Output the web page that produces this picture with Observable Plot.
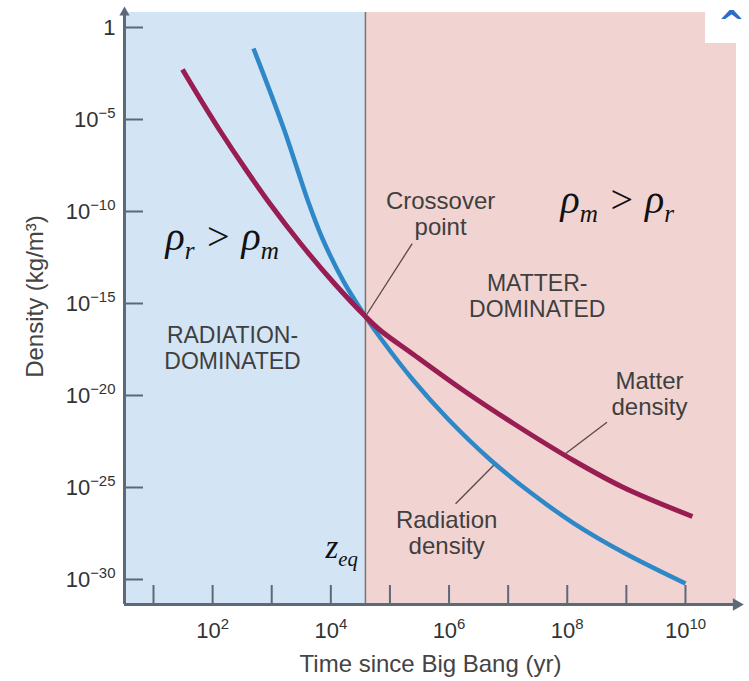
<!DOCTYPE html>
<html><head><meta charset="utf-8">
<script src="https://cdn.jsdelivr.net/npm/d3@7"></script>
<script src="https://cdn.jsdelivr.net/npm/@observablehq/plot@0.6"></script>
<style>
html,body{margin:0;padding:0;background:#fff;}
#chart{width:749px;height:681px;}
</style></head><body><div id="chart"></div>
<script>
// ---------- data ----------
const matterTime    = [30.9, 62.4, 136, 360, 954, 3.07e3, 1.11e4, 3.85e4, 6.92e4, 2.5e5, 1.76e6, 1.23e7, 1.28e8, 8.94e8, 1.31e10];
const matterDensity = [5.2e-3, 1.22e-4, 2.23e-6, 2.04e-8, 2.4e-10, 1.82e-12, 1.38e-14, 1.96e-16, 3.4e-17, 1.69e-18, 1.87e-20, 3.0e-22, 2.93e-24, 1.0e-25, 2.65e-27];
const radiationTime    = [492, 952, 1.64e3, 2.62e3, 4.19e3, 7.2e3, 1.64e4, 3.85e4, 6.92e4, 2.5e5, 9.42e5, 5.03e6, 2.39e7, 1.27e8, 8.94e8, 1.0e10];
const radiationDensity = [7.2e-2, 2.9e-4, 2.5e-6, 2.8e-8, 3.1e-10, 3.4e-12, 1.6e-14, 1.96e-16, 1.33e-17, 6.5e-20, 5.6e-22, 3.13e-24, 5.3e-26, 1.17e-27, 2.93e-29, 6.07e-31];
const equalityTime = 3.85e4;

const xDomain = [3.23, 7.3e10];
const yDomain = [4.37e-32, 6.53];
const xTickValues  = [1e1, 1e2, 1e3, 1e4, 1e5, 1e6, 1e7, 1e8, 1e9, 1e10];
const xLabelValues = [1e2, 1e4, 1e6, 1e8, 1e10];
const yTickValues  = [1, 1e-5, 1e-10, 1e-15, 1e-20, 1e-25, 1e-30];

const regionNames = ["radiation", "matter"];
const regionStart = [xDomain[0], equalityTime];
const regionEnd   = [equalityTime, xDomain[1]];
const regionFill  = ["#d3e4f5", "#f1d3d1"];

const regionLabels       = ["RADIATION-\nDOMINATED", "MATTER-\nDOMINATED"];
const regionLabelTime    = [217, 3.1e7];
const regionLabelDensity = [6.8e-17, 5.1e-14];

const curveLabels       = ["Crossover\npoint", "Matter\ndensity", "Radiation\ndensity"];
const curveLabelTime    = [7.2e5, 2.46e9, 9.1e5];
const curveLabelDensity = [1.5e-9, 2.5e-19, 6.9e-27];

const leaderTimeA    = [3.85e4, 9.3e7, 5.7e6];
const leaderDensityA = [1.96e-16, 6.8e-24, 1.6e-24];
const leaderTimeB    = [2.38e5, 4.7e8, 1.29e6];
const leaderDensityB = [1.8e-12, 3.5e-22, 1.3e-26];

const mathLabels  = ["ρ_{r} > ρ_{m}", "ρ_{m} > ρ_{r}"];
const mathTime    = [16, 7.7e7];
const mathDensity = [7.6e-13, 7.8e-11];
const eqLabel = ["z_{eq}"];
const eqTime = [8.1e3];
const eqDensity = [1.4e-29];

const xTitle = "Time since Big Bang (yr)";
const yTitle = "Density (kg/m³)";
const yTitleTime = 0.101, yTitleDensity = 2.4e-15;

// ---------- layout ----------
const W = 749, H = 681;
const M = {top: 12, right: 13, bottom: 77, left: 124};
const frameW = W - M.left - M.right, frameH = H - M.top - M.bottom;
const axisColor = "#5b6978";
const textColor = "#3f3f3f";

const fmt = d => d === 1 ? "1" : `10^{${Math.round(Math.log10(d)).toString().replace("-", "−")}}`;

const chart = Plot.plot({
  width: W, height: H,
  marginTop: M.top, marginRight: M.right, marginBottom: M.bottom, marginLeft: M.left,
  style: {fontFamily: "'Liberation Sans', Arial, sans-serif", background: "#fff", overflow: "visible"},
  x: {type: "log", domain: xDomain, axis: null},
  y: {type: "log", domain: yDomain, axis: null},
  marks: [
    Plot.rect(regionNames, {x1: regionStart, x2: regionEnd, y1: yDomain[0], y2: yDomain[1], fill: regionFill}),
    // slide corner box with its chevron
    Plot.rect([0], {x1: 2.18e10, x2: 2e11, y1: 0.135, y2: 100, fill: "#fff"}),
    Plot.text(["^"], {x: 6.0e10, y: 0.47, lineAnchor: "bottom", fontSize: 32, fontWeight: "bold", fontFamily: "DejaVu Sans", fill: "#2a6cc8"}),
    Plot.ruleX([equalityTime], {stroke: "#7d7472", strokeWidth: 1.5}),
    Plot.ruleX(xTickValues, {insetTop: frameH - 19, stroke: axisColor, strokeWidth: 2}),
    Plot.ruleY(yTickValues, {insetRight: frameW - 19, stroke: axisColor, strokeWidth: 2}),
    Plot.line(radiationTime, {x: radiationTime, y: radiationDensity, curve: "catmull-rom", stroke: "#2e88c8", strokeWidth: 4.5, strokeLinecap: "butt"}),
    Plot.line(matterTime, {x: matterTime, y: matterDensity, curve: "catmull-rom", stroke: "#981d52", strokeWidth: 5, strokeLinecap: "butt"}),
    Plot.link(leaderTimeA, {x1: leaderTimeA, y1: leaderDensityA, x2: leaderTimeB, y2: leaderDensityB, stroke: "#5a4848", strokeWidth: 1.3}),
    Plot.text(regionLabels, {x: regionLabelTime, y: regionLabelDensity, text: d => d, lineAnchor: "top", lineHeight: 1.13, fontSize: 23, fill: textColor}),
    Plot.text(curveLabels, {x: curveLabelTime, y: curveLabelDensity, text: d => d, lineAnchor: "top", lineHeight: 1.1, fontSize: 24, fill: textColor}),
    Plot.text(mathLabels, {x: mathTime, y: mathDensity, text: d => d, textAnchor: "start", lineAnchor: "bottom", fontSize: 40, fontFamily: "'Liberation Serif', 'Times New Roman', serif", fontStyle: "italic", fill: "#111"}),
    Plot.text(eqLabel, {x: eqTime, y: eqDensity, text: d => d, textAnchor: "start", lineAnchor: "bottom", fontSize: 33, fontFamily: "'Liberation Serif', 'Times New Roman', serif", fontStyle: "italic", fill: "#111"}),
    // axes
    Plot.ruleX([xDomain[0]], {y1: yDomain[0], y2: yDomain[1], stroke: axisColor, strokeWidth: 3}),
    Plot.ruleY([yDomain[0]], {x1: xDomain[0], x2: xDomain[1], stroke: axisColor, strokeWidth: 3}),
    Plot.dot([{t: xDomain[1], d: yDomain[0]}], {x: "t", y: "d", symbol: "triangle", r: 4.7, rotate: 90, fill: axisColor, stroke: null}),
    Plot.dot([{t: xDomain[0], d: yDomain[1]}], {x: "t", y: "d", symbol: "triangle", r: 3.8, fill: axisColor, stroke: null}),
    Plot.text(xLabelValues, {x: d => d, frameAnchor: "bottom", lineAnchor: "top", dy: 17.4, text: fmt, fontSize: 22, fill: "#333"}),
    Plot.text(yTickValues, {y: d => d, frameAnchor: "left", textAnchor: "end", dx: -9, text: fmt, fontSize: 22, fill: "#333"}),
    Plot.text([xTitle], {frameAnchor: "bottom", lineAnchor: "top", dy: 50, fontSize: 24, fill: "#444"}),
    Plot.text([yTitle], {x: yTitleTime, y: yTitleDensity, rotate: -90, fontSize: 24, fill: "#444"})
  ]
});

document.getElementById("chart").appendChild(chart);

// turn ^{..} and _{..} into real superscript / subscript tspans
function applyScripts() {
  d3.select(chart).selectAll("text").each(function () {
    const txt = this.textContent;
    if (!/[\^_]\{/.test(txt)) return;
    const cs = getComputedStyle(this);
    const fs = parseFloat(cs.fontSize);
    const o = cs.fontStyle === "italic"
      ? {subShift: 0.22, subScale: 0.63}
      : {supShift: 0.4, supScale: 0.68};
    const parts = [];
    const re = /([\^_])\{([^}]*)\}/g;
    let last = 0, m;
    while ((m = re.exec(txt))) {
      if (m.index > last) parts.push({t: txt.slice(last, m.index)});
      parts.push({t: m[2], kind: m[1]});
      last = re.lastIndex;
    }
    if (last < txt.length) parts.push({t: txt.slice(last)});
    this.textContent = "";
    this.style.whiteSpace = "pre";
    let cur = 0;
    for (const p of parts) {
      const ts = document.createElementNS("http://www.w3.org/2000/svg", "tspan");
      let target = 0;
      if (p.kind === "^") { target = -o.supShift * fs; ts.setAttribute("font-size", o.supScale * fs); }
      else if (p.kind === "_") { target = o.subShift * fs; ts.setAttribute("font-size", o.subScale * fs); }
      if (target - cur !== 0) ts.setAttribute("dy", target - cur);
      cur = target;
      ts.textContent = p.t;
      this.appendChild(ts);
    }
  });
}
applyScripts();
</script>
</body></html>
